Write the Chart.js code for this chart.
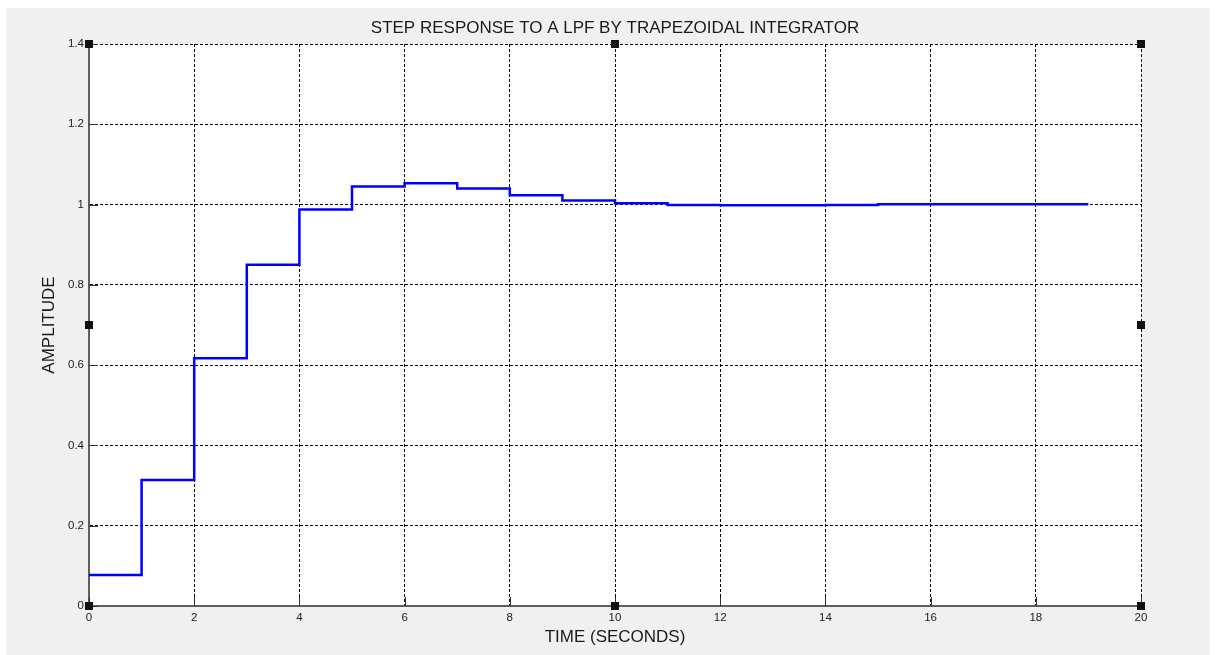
<!DOCTYPE html>
<html>
<head>
<meta charset="utf-8">
<script src="https://cdn.jsdelivr.net/npm/chart.js@4.4.1/dist/chart.umd.min.js"></script>
<style>
  html, body { margin: 0; padding: 0; background: #fff; }
  #panel { position: absolute; left: 6px; top: 8px; width: 1204px; height: 647px; background: #f0f0f0; }
  #chart { display: block; }
</style>
</head>
<body>
<div id="panel"><canvas id="chart" width="1204" height="647"></canvas></div>
<script>
// sample times (s) and the held output value at each sample
const times = [0, 1, 2, 3, 4, 5, 6, 7, 8, 9, 10, 11, 12, 13, 14, 15, 16, 17, 18, 19];
const amplitude = [0.077, 0.314, 0.617, 0.850, 0.988, 1.045, 1.053, 1.040, 1.023, 1.010,
                   1.003, 0.999, 0.998, 0.998, 0.999, 1.001, 1.001, 1.001, 1.001, 1.001];
const xTickLabels = ["0", "2", "4", "6", "8", "10", "12", "14", "16", "18", "20"];
const yTickLabels = ["0", "0.2", "0.4", "0.6", "0.8", "1", "1.2", "1.4"];

const FONT = "'Liberation Sans', Arial, sans-serif";

// white plot background + inward tick marks + selection handles
const axesDeco = {
  id: "axesDeco",
  beforeDraw(chart){
    const a = chart.chartArea, ctx = chart.ctx;
    ctx.save();
    ctx.fillStyle = "#ffffff";
    ctx.fillRect(a.left, a.top, a.right - a.left, a.bottom - a.top);
    ctx.restore();
  },
  afterDatasetsDraw(chart){
    const a = chart.chartArea, ctx = chart.ctx;
    const xs = chart.scales.x, ys = chart.scales.y;
    ctx.save();
    ctx.strokeStyle = "#333";
    ctx.lineWidth = 1;
    ctx.beginPath();
    xs.ticks.forEach(t => {
      const px = Math.round(xs.getPixelForValue(t.value)) + 0.5;
      ctx.moveTo(px, a.bottom); ctx.lineTo(px, a.bottom - 9);
    });
    ys.ticks.forEach(t => {
      const py = Math.round(ys.getPixelForValue(t.value)) + 0.5;
      ctx.moveTo(a.left, py); ctx.lineTo(a.left + 9, py);
    });
    ctx.stroke();
    ctx.restore();
  },
  afterDraw(chart){
    const a = chart.chartArea, ctx = chart.ctx;
    const mx = (a.left + a.right) / 2, my = (a.top + a.bottom) / 2;
    const pts = [[a.left, a.top], [mx, a.top], [a.right, a.top],
                 [a.left, my], [a.right, my],
                 [a.left, a.bottom], [mx, a.bottom], [a.right, a.bottom]];
    ctx.save();
    ctx.fillStyle = "#111";
    pts.forEach(p => ctx.fillRect(Math.round(p[0]) - 4, Math.round(p[1]) - 4, 8, 8));
    ctx.restore();
  }
};

new Chart(document.getElementById("chart"), {
  type: "line",
  data: {
    datasets: [{
      label: "step",
      data: times.map((t, i) => ({ x: t, y: amplitude[i] })),
      borderColor: "#0000ff",
      borderWidth: 2.5,
      stepped: "before",
      pointRadius: 0,
      fill: false
    }]
  },
  options: {
    responsive: false,
    animation: false,
    devicePixelRatio: 1,
    layout: { padding: { left: 0, right: 69, top: 0, bottom: 0 } },
    plugins: {
      legend: { display: false },
      tooltip: { enabled: false },
      title: {
        display: true,
        text: "STEP RESPONSE TO A LPF BY TRAPEZOIDAL INTEGRATOR",
        fullSize: false,
        color: "#1a1a1a",
        font: { family: FONT, size: 17, weight: "normal" },
        padding: { top: 9.8, bottom: 5.8 }
      }
    },
    scales: {
      x: {
        type: "linear",
        min: 0, max: 20,
        afterFit: s => { s.height = 49; },
        ticks: {
          stepSize: 2,
          padding: 5,
          maxRotation: 0,
          color: "#222",
          font: { family: FONT, size: 11.5 },
          callback: (v, i) => xTickLabels[i]
        },
        grid: { color: "#000", lineWidth: 1, drawTicks: false },
        border: { display: true, color: "#5e5e5e", width: 2, dash: [3, 2] },
        title: {
          display: true,
          text: "TIME (SECONDS)",
          color: "#1a1a1a",
          font: { family: FONT, size: 17 },
          padding: { top: 0, bottom: 7.8 }
        }
      },
      y: {
        type: "linear",
        min: 0, max: 1.4,
        afterFit: s => { s.width = 83; },
        ticks: {
          stepSize: 0.2,
          padding: 5,
          color: "#222",
          font: { family: FONT, size: 11.5 },
          callback: (v, i) => yTickLabels[i]
        },
        grid: { color: "#000", lineWidth: 1, drawTicks: false },
        border: { display: true, color: "#5e5e5e", width: 2, dash: [3, 2] },
        title: {
          display: true,
          text: "AMPLITUDE",
          color: "#1a1a1a",
          font: { family: FONT, size: 17 },
          padding: { top: 33.3, bottom: 0 }
        }
      }
    }
  },
  plugins: [axesDeco]
});
</script>
</body>
</html>
